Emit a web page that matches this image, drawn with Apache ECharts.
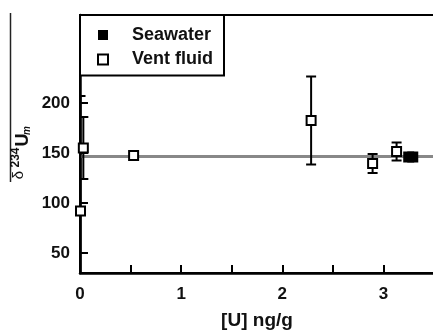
<!DOCTYPE html>
<html>
<head>
<meta charset="utf-8">
<script src="https://cdn.jsdelivr.net/npm/echarts@6/dist/echarts.min.js"></script>
<style>
  html, body { margin: 0; padding: 0; background: #fff; }
  #chart { width: 433px; height: 331px; }
</style>
</head>
<body>
<div id="chart"></div>
<script>
// Vent fluid samples: [U] (ng/g), delta-234U, 1-sigma error
const ventU = [0.005, 0.033, 0.53, 2.285, 2.893, 3.13];
const ventDelta = [92, 155, 147.5, 182.5, 139.5, 151.5];
const ventErr = [115, 31, 0, 44, 9.5, 9];

// Seawater samples
const seaU = [3.25, 3.29];
const seaDelta = [146, 146];

// Mean seawater value drawn as a reference line
const seawaterMean = 146.5;

// Axis ticks and labels
const xTickValues = [0, 0.5, 1, 1.5, 2, 2.5, 3];
const xLabelValues = [0, 1, 2, 3];
const yTickValues = [50, 100, 150, 200];

const FONT = '"Liberation Sans", Arial, sans-serif';

const chart = echarts.init(document.getElementById('chart'), null, { renderer: 'canvas' });

const ventPoints = ventU.map((u, i) => [u, ventDelta[i], ventErr[i]]);
const seaPoints = seaU.map((u, i) => [u, seaDelta[i]]);

function renderErrorBar(params, api) {
  const x = api.value(0);
  const y = api.value(1);
  const e = api.value(2);
  if (!e) return null;
  const top = api.coord([x, y + e]);
  const bot = api.coord([x, y - e]);
  const cap = 5;
  const style = { stroke: '#000', lineWidth: 2 };
  return {
    type: 'group',
    children: [
      { type: 'line', shape: { x1: top[0], y1: top[1], x2: bot[0], y2: bot[1] }, style },
      { type: 'line', shape: { x1: top[0] - cap, y1: top[1], x2: top[0] + cap, y2: top[1] }, style },
      { type: 'line', shape: { x1: bot[0] - cap, y1: bot[1], x2: bot[0] + cap, y2: bot[1] }, style }
    ]
  };
}

const option = {
  backgroundColor: '#fff',
  animation: false,
  grid: {
    left: 80, top: 15, width: 354, height: 258,
    outerBoundsMode: 'none',
    show: true, borderColor: '#000', borderWidth: 2, backgroundColor: 'transparent'
  },
  legend: {
    left: 80, top: 15,
    orient: 'vertical',
    backgroundColor: '#fff',
    borderColor: '#000', borderWidth: 2, borderRadius: 0,
    padding: [10, 11, 6, 17],
    itemWidth: 10, itemHeight: 10, itemGap: 4.5,
    textStyle: {
      fontFamily: FONT, fontWeight: 'bold', fontSize: 18, color: '#111',
      lineHeight: 20, padding: [0, 0, 0, 19]
    },
    data: [
      { name: 'Seawater', icon: 'rect' },
      { name: 'Vent fluid', icon: 'rect' }
    ]
  },
  xAxis: {
    type: 'value', min: 0, max: 3.5,
    name: '[U] ng/g', nameLocation: 'middle', nameGap: 38,
    nameTextStyle: { fontFamily: FONT, fontWeight: 'bold', fontSize: 19, color: '#111' },
    splitLine: { show: false },
    axisLine: { show: true, onZero: false, lineStyle: { color: '#000', width: 2.5 } },
    axisTick: { show: true, inside: true, length: 8, customValues: xTickValues, lineStyle: { color: '#000', width: 2 } },
    axisLabel: {
      customValues: xLabelValues, margin: 13,
      fontFamily: FONT, fontWeight: 'bold', fontSize: 17, color: '#111'
    }
  },
  yAxis: {
    type: 'value', min: 30, max: 288,
    splitLine: { show: false },
    axisLine: { show: true, onZero: false, lineStyle: { color: '#000', width: 2.5 } },
    axisTick: { show: true, inside: true, length: 8, customValues: yTickValues, lineStyle: { color: '#000', width: 2 } },
    axisLabel: {
      customValues: yTickValues, margin: 10,
      fontFamily: FONT, fontWeight: 'bold', fontSize: 17, color: '#111'
    }
  },
  graphic: [
    // overline of the y-axis title, running along its left side
    { type: 'line', shape: { x1: 10.5, y1: 13, x2: 10.5, y2: 182 }, style: { stroke: '#222', lineWidth: 1.5 } },
    { type: 'text', x: 19, y: 175, rotation: Math.PI / 2,
      style: { text: 'δ', font: '15px ' + FONT, fill: '#111', align: 'center', verticalAlign: 'middle' } },
    { type: 'text', x: 16, y: 157.5, rotation: Math.PI / 2,
      style: { text: '234', font: 'bold 12px ' + FONT, fill: '#111', align: 'center', verticalAlign: 'middle' } },
    { type: 'text', x: 23.5, y: 140, rotation: Math.PI / 2,
      style: { text: 'U', font: 'bold 18px ' + FONT, fill: '#111', align: 'center', verticalAlign: 'middle' } },
    { type: 'text', x: 27.5, y: 130.5, rotation: Math.PI / 2,
      style: { text: 'm', font: 'italic bold 10px ' + FONT, fill: '#111', align: 'center', verticalAlign: 'middle' } }
  ],
  series: [
    {
      name: 'mean',
      type: 'line',
      data: [[0, seawaterMean], [3.5, seawaterMean]],
      showSymbol: false,
      lineStyle: { color: '#888888', width: 3 },
      silent: true, z: 1
    },
    {
      name: 'errors',
      type: 'custom',
      renderItem: renderErrorBar,
      data: ventPoints,
      clip: true, z: 2
    },
    {
      name: 'Vent fluid',
      type: 'scatter',
      symbol: 'rect', symbolSize: 9,
      data: ventPoints.map(p => [p[0], p[1]]),
      itemStyle: { color: '#fff', borderColor: '#000', borderWidth: 2, opacity: 1 },
      z: 3
    },
    {
      name: 'Seawater',
      type: 'scatter',
      symbol: 'rect', symbolSize: 11,
      data: seaPoints,
      itemStyle: { color: '#000', opacity: 1 },
      z: 3
    }
  ]
};

chart.setOption(option);
</script>
</body>
</html>
